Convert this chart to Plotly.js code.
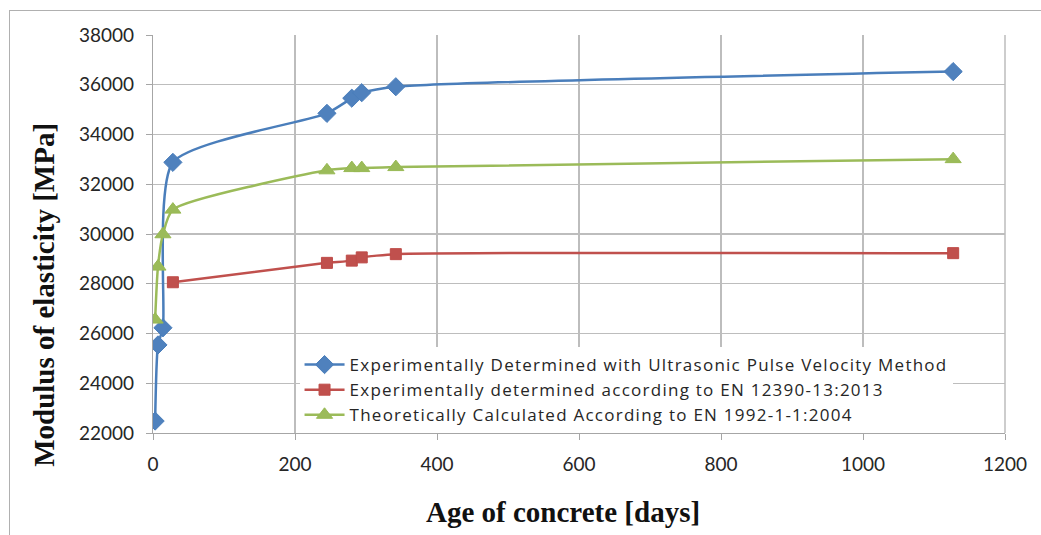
<!DOCTYPE html>
<html>
<head>
<meta charset="utf-8">
<script src="https://cdn.plot.ly/plotly-3.0.1.min.js"></script>
<style>
  html, body { margin: 0; padding: 0; background: #fff; }
  #wrap { position: relative; width: 1041px; height: 535px; overflow: hidden; }
  #chart { width: 1041px; height: 535px; }
  #frame { position: absolute; left: 9px; top: 10px; width: 1100px; height: 600px;
           border-left: 1.5px solid #b0b0b0; border-top: 1.5px solid #b0b0b0; pointer-events: none; }
  .legendtext { letter-spacing: 1.25px; }
</style>
</head>
<body>
<div id="wrap"><div id="chart"></div><div id="frame"></div></div>
<script>
// Age of concrete [days]
const agesUPV = [3, 7, 14, 28, 245, 280, 294, 342, 1127];
const modulusUPV = [22480, 25540, 26230, 32880, 34850, 35460, 35680, 35920, 36530];

const agesEN12390 = [28, 245, 280, 294, 342, 1127];
const modulusEN12390 = [28060, 28840, 28930, 29060, 29190, 29230];

const agesEN1992 = [3, 7, 14, 28, 245, 280, 294, 342, 1127];
const modulusEN1992 = [26560, 28690, 29990, 30980, 32560, 32650, 32650, 32690, 33010];

const seriesNames = [
  'Experimentally Determined with Ultrasonic Pulse Velocity Method',
  'Experimentally determined according to EN 12390-13:2013',
  'Theoretically Calculated According to EN 1992-1-1:2004'
];
const xTickVals = [0, 200, 400, 600, 800, 1000, 1200];
const yTickVals = [22000, 24000, 26000, 28000, 30000, 32000, 34000, 36000, 38000];
const xTitle = 'Age of concrete [days]';
const yTitle = 'Modulus of elasticity [MPa]';

const sansFont = 'Lato, "Open Sans", sans-serif';
const legendFont = '"Open Sans", Lato, sans-serif';
const serifFont = '"Liberation Serif", "Times New Roman", serif';

const traces = [
  { x: agesUPV, y: modulusUPV, name: seriesNames[0], type: 'scatter', mode: 'lines+markers',
    line: { color: '#4A7EBB', width: 2.5, shape: 'spline', smoothing: 0.6 },
    marker: { symbol: 'diamond', size: 14, color: '#4F81BD', line: { color: '#4A7EBB', width: 1 } } },
  { x: agesEN12390, y: modulusEN12390, name: seriesNames[1], type: 'scatter', mode: 'lines+markers',
    line: { color: '#C0504D', width: 2.5, shape: 'spline', smoothing: 0.5 },
    marker: { symbol: 'square', size: 11, color: '#C0504D', line: { color: '#BE4B48', width: 1 } } },
  { x: agesEN1992, y: modulusEN1992, name: seriesNames[2], type: 'scatter', mode: 'lines+markers',
    line: { color: '#9BBB59', width: 2.5, shape: 'spline', smoothing: 0.6 },
    marker: { symbol: 'triangle-up', size: 14, color: '#9BBB59', line: { color: '#98B954', width: 1 } } }
];

const layout = {
  width: 1041, height: 535,
  margin: { l: 153, r: 36, t: 35, b: 102 },
  paper_bgcolor: '#ffffff', plot_bgcolor: '#ffffff',
  showlegend: true,
  legend: {
    x: 0.172, y: 0.216, xanchor: 'left', yanchor: 'top',
    bgcolor: '#ffffff', borderwidth: 0,
    font: { family: legendFont, size: 17, color: '#262626' },
    tracegroupgap: 0, itemwidth: 40
  },
  xaxis: {
    range: [0, 1200], tickvals: xTickVals, ticktext: xTickVals.map(String),
    showgrid: true, gridcolor: '#bdbdbd', gridwidth: 1.2,
    showline: true, linecolor: '#a6a6a6', linewidth: 1.2, zeroline: false,
    ticks: 'outside', ticklen: 6, tickcolor: '#a6a6a6', ticklabelstandoff: 8,
    tickfont: { family: sansFont, size: 19, color: '#262626' }
  },
  yaxis: {
    range: [22000, 38000], tickvals: yTickVals, ticktext: yTickVals.map(String),
    showgrid: true, gridcolor: '#bdbdbd', gridwidth: 1.2,
    showline: true, linecolor: '#a6a6a6', linewidth: 1.2, zeroline: false,
    ticks: 'outside', ticklen: 6, tickcolor: '#a6a6a6', ticklabelstandoff: 8,
    tickfont: { family: sansFont, size: 19, color: '#262626' }
  },
  annotations: [
    { text: '<b>' + xTitle + '</b>', xref: 'paper', yref: 'paper', x: 0.481, y: -0.1985,
      xanchor: 'center', yanchor: 'middle', showarrow: false,
      font: { family: serifFont, size: 29, color: '#111' } },
    { text: '<b>' + yTitle + '</b>', xref: 'paper', yref: 'paper', x: -0.128, y: 0.347,
      xanchor: 'center', yanchor: 'middle', textangle: -90, showarrow: false,
      font: { family: serifFont, size: 29, color: '#111' } }
  ],
  shapes: [
    { type: 'line', xref: 'paper', yref: 'paper', x0: 1, x1: 1, y0: 0, y1: 1,
      line: { color: '#bdbdbd', width: 1.5 } }
  ]
};

Plotly.newPlot('chart', traces, layout, { displayModeBar: false, staticPlot: true });
</script>
</body>
</html>
